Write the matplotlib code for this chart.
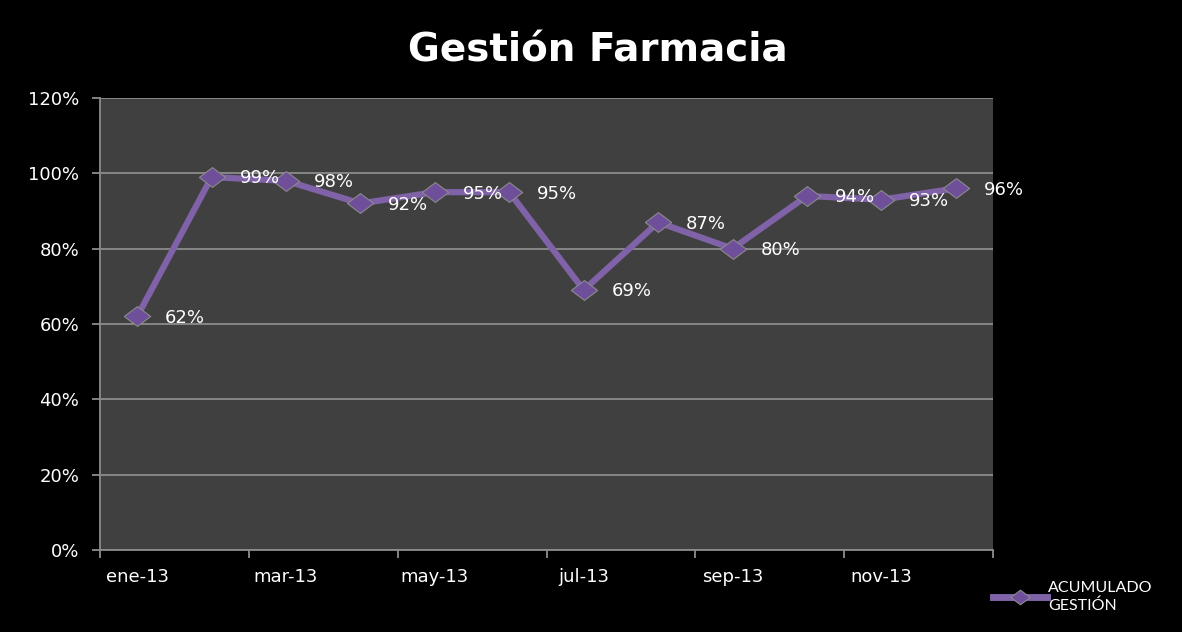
import numpy as np
import matplotlib
matplotlib.use('Agg')
import matplotlib.pyplot as plt

plt.rcParams['font.family'] = ['DejaVu Sans']

meses = ['ene-13', 'feb-13', 'mar-13', 'abr-13', 'may-13', 'jun-13',
         'jul-13', 'ago-13', 'sep-13', 'oct-13', 'nov-13', 'dic-13']
acumulado = [62, 99, 98, 92, 95, 95, 69, 87, 80, 94, 93, 96]
y_ticks = [0, 20, 40, 60, 80, 100, 120]
titulo = 'Gestión Farmacia'
serie = 'ACUMULADO\nGESTIÓN'

W, H = 1182, 632
fig = plt.figure(figsize=(W / 100, H / 100), dpi=100, facecolor='black')
ax = fig.add_axes([100 / W, 1 - 550 / H, (993 - 100) / W, (550 - 98) / H])
ax.set_facecolor('#404040')

x = np.arange(len(meses))
diamond = [(-1, 0), (0, 0.75), (1, 0), (0, -0.75), (-1, 0)]
ax.plot(x, acumulado, color='#7f62a8', lw=4.5, marker=diamond, ms=19,
        mfc='#6f4f9a', mec='#8a8a8a', mew=0.8, label=serie, zorder=3)

for xi, v in zip(x, acumulado):
    ax.annotate(f'{v}%', (xi, v), xytext=(20, -1), textcoords='offset points',
                ha='left', va='center', color='white', fontsize=13, zorder=4)

ax.set_xlim(-0.5, len(meses) - 0.5)
ax.set_ylim(0, 120)
ax.set_yticks(y_ticks)
ax.set_yticklabels([f'{t}%' for t in y_ticks])
ax.yaxis.grid(True, color='#8c8c8c', lw=1.3)
ax.set_axisbelow(True)

ax.set_xticks(np.arange(-0.5, len(meses), 2))
ax.set_xticklabels([])
ax.set_xticks(x[::2], minor=True)
ax.set_xticklabels(meses[::2], minor=True)
ax.tick_params(axis='x', which='major', length=6, width=1.3, color='#8c8c8c')
ax.tick_params(axis='x', which='minor', length=0, pad=13, labelsize=13, labelcolor='white')
ax.tick_params(axis='y', length=6, width=1.3, color='#8c8c8c', pad=9,
               labelsize=13, labelcolor='white')

for s in ['top', 'right']:
    ax.spines[s].set_visible(False)
for s in ['left', 'bottom']:
    ax.spines[s].set_color('#8c8c8c')
    ax.spines[s].set_linewidth(1.3)

fig.text(598 / W, 1 - 50 / H, titulo, ha='center', va='center', color='white',
         fontsize=28, fontweight='bold')

leg = ax.legend(loc='center left', bbox_to_anchor=(993 / W, 1 - 597 / H),
                bbox_transform=fig.transFigure, frameon=False,
                prop={'family': 'Lato', 'size': 11.5}, labelcolor='white',
                handlelength=3.4, handletextpad=0.05, borderaxespad=0, borderpad=0)
leg.legend_handles[0].set_markersize(14)
leg.legend_handles[0].set_linewidth(5)
leg.get_texts()[0].set_linespacing(1.35)

fig.savefig('out.png', dpi=100, facecolor='black')
